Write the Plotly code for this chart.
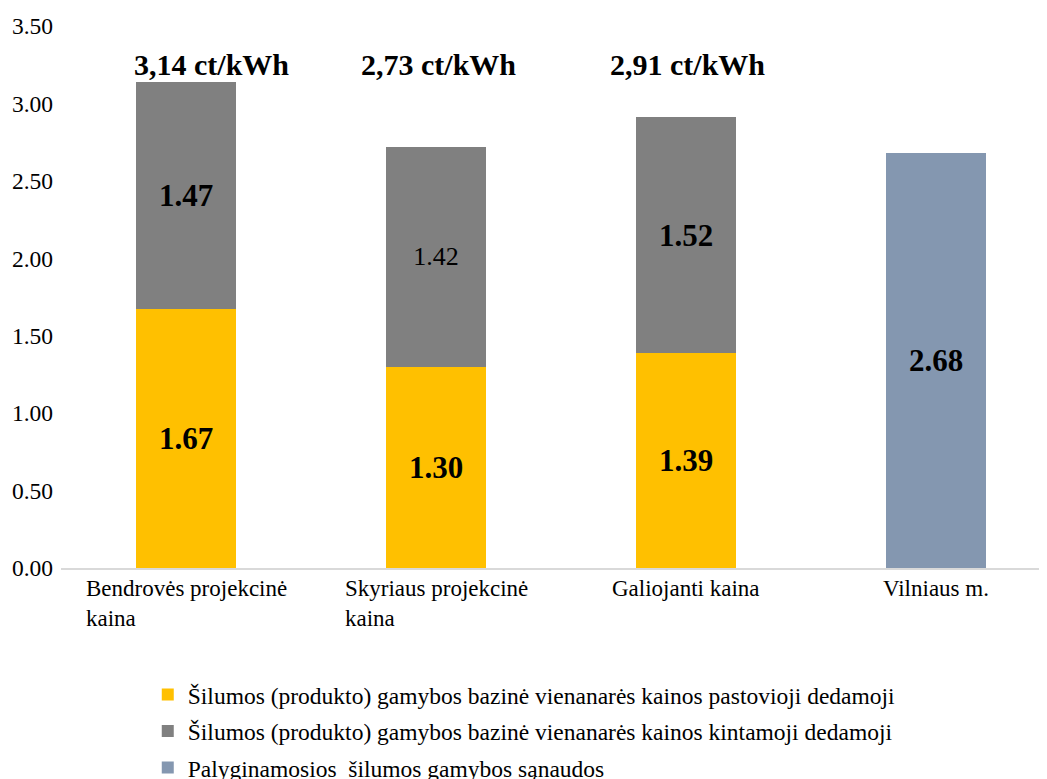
import plotly.graph_objects as go

categories = ["Bendrovės projekcinė<br>kaina", "Skyriaus projekcinė<br>kaina", "Galiojanti kaina", "Vilniaus m."]
cat_keys = ["c1", "c2", "c3", "c4"]

fixed_part = [1.67, 1.30, 1.39, None]
variable_part = [1.47, 1.42, 1.52, None]
comparable = [None, None, None, 2.68]

fixed_bold = [True, True, True, False]
variable_bold = [True, False, True, False]
comparable_bold = [False, False, False, True]

total_labels = ["3,14 ct/kWh", "2,73 ct/kWh", "2,91 ct/kWh", ""]
total_label_level = 3.25

series_names = [
    "Šilumos (produkto) gamybos bazinė vienanarės kainos pastovioji dedamoji",
    "Šilumos (produkto) gamybos bazinė vienanarės kainos kintamoji dedamoji",
    "Palyginamosios\u00a0 šilumos gamybos sąnaudos",
]
colors = ["#FFC000", "#808080", "#8497B0"]

# label horizontal offsets (px) for total labels (style only)
total_xshift = [25, 2, 1, 0]

FONT = "Liberation Serif"


def labels(vals, bold):
    out = []
    for v, b in zip(vals, bold):
        if v is None:
            out.append("")
        elif b:
            out.append(f"<b>{v:.2f}</b>")
        else:
            out.append(f"{v:.2f}")
    return out


def sizes(bold):
    return [31 if b else 26 for b in bold]


fig = go.Figure()
for name, vals, bold, col, grp in [
    (series_names[0], fixed_part, fixed_bold, colors[0], "g1"),
    (series_names[1], variable_part, variable_bold, colors[1], "g2"),
    (series_names[2], comparable, comparable_bold, colors[2], "g3"),
]:
    fig.add_trace(go.Bar(
        x=cat_keys, y=vals, name=name, marker_color=col, marker_line_width=0,
        text=labels(vals, bold), textposition="inside", insidetextanchor="middle",
        textangle=0, constraintext="none",
        textfont=dict(family=FONT, size=sizes(bold), color="black"),
        legendgroup=grp, hoverinfo="skip",
    ))

for k, t, xs in zip(cat_keys, total_labels, total_xshift):
    if t:
        fig.add_annotation(x=k, y=total_label_level, text=f"<b>{t}</b>", showarrow=False,
                           xref="x", yref="y", yanchor="middle", xshift=xs,
                           font=dict(family=FONT, size=30, color="black"))

for k, c in zip(cat_keys, categories):
    fig.add_annotation(x=k, y=0, text=c, showarrow=False, xref="x", yref="y",
                       yanchor="top", xanchor="center", align="left", yshift=-6,
                       font=dict(family=FONT, size=23, color="black"))

fig.update_layout(
    width=1039, height=771,
    margin=dict(l=53, r=0, t=18, b=211, autoexpand=False),
    barmode="stack", bargap=0.6,
    plot_bgcolor="white", paper_bgcolor="white",
    font=dict(family=FONT, size=23, color="black"),
    showlegend=True,
    legend=dict(orientation="v", x=0.088, xanchor="left", y=-0.193, yanchor="top",
                traceorder="grouped", tracegroupgap=3,
                font=dict(family=FONT, size=23.5, color="black"),
                bgcolor="rgba(0,0,0,0)"),
)
fig.update_xaxes(range=[-0.5, 3.444], showticklabels=False, showline=True,
                 linecolor="#d9d9d9", linewidth=1.5, ticks="", showgrid=False,
                 zeroline=False, fixedrange=True)
fig.update_yaxes(range=[0, 3.5], dtick=0.5, tick0=0, tickformat=".2f", showgrid=False,
                 zeroline=False, showline=False, ticks="", ticklabelstandoff=7,
                 tickfont=dict(family=FONT, size=23.5, color="black"), fixedrange=True)

fig.write_html("out.html")
